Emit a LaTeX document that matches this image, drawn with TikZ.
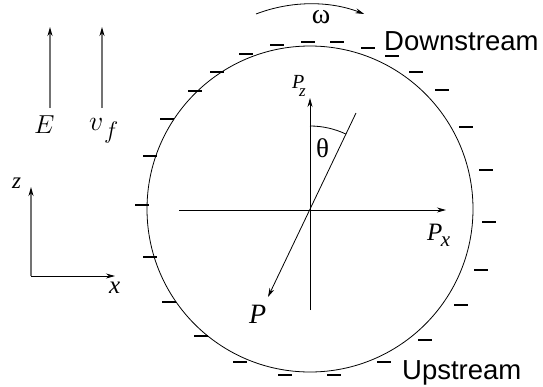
\RequirePackage{fix-cm}
\documentclass[tikz,border=0pt]{standalone}
\usepackage{fontspec}
\setmainfont{Liberation Serif}
\setsansfont{Liberation Sans}
\usetikzlibrary{arrows.meta}
\tikzset{
  chg/.style={line width=1.8pt},
  thin line/.style={line width=0.8pt},
  tip/.style={-{Stealth[length=9pt,width=5pt]}},
  grayarrow/.style={line width=1.3pt, draw=black!55, -{Stealth[length=9pt,width=5pt,color=black]}},
  lbl/.style={inner sep=0pt, anchor=base west},
}
\newcommand{\fs}[1]{\fontsize{#1}{#1}\selectfont}
\begin{document}
\begin{tikzpicture}[x=1pt,y=-1pt]
\useasboundingbox (0,0) rectangle (543,386);
% main circle
\coordinate (O) at (310,210);
\draw[thin line] (310,209) circle[radius=163];
% charges
\foreach \x/\y in {277/45,246/54,217/72,195/91,167/119,150/156,142/205,150/257,169/302,201/336,240/362,285/375,334/375,384/362,425/340,461/305,481/270,489/222,486/170,466/127,442/90,416/72,392/56,368/48,337/42,308/42}
  \draw[chg] (\x-7,\y) -- (\x+7,\y);
% axes
\coordinate (xl) at (179,210);
\coordinate (xr) at (446,210);
\coordinate (zb) at (310,310);
\coordinate (zt) at (310,98);
\draw[thin line, tip] (xl) -- (xr);
\draw[thin line, tip] (zb) -- (zt);
% P vector
\coordinate (pt) at (356,113);
\coordinate (pb) at (268,297);
\draw[thin line, tip] (pt) -- (pb);
% theta arc
\draw[thin line] (310,126) arc[start angle=-90, end angle=-64.6, radius=84];
\node[inner sep=0] (theta) at (322.5,148) {\fs{27}θ};
% omega arc
\draw[thin line, tip] (256,14) arc[start angle=-111, end angle=-69, radius=151];
\node[inner sep=0] (omega) at (321,17) {\fs{28}ω};
% labels
\node[lbl] (pz) at (292,88) {\fs{20}\itshape P\kern-0.26em\raisebox{-0.42em}{\fs{17}z}};
\node[lbl] (px) at (427,240) {\fs{25}\itshape P\kern-0.06em\raisebox{-0.25em}{\fs{21}x}};
\node[lbl] (p) at (249,323) {\fs{28}\itshape P};
\node[lbl] (down) at (384,50) {\fs{27.5}\sffamily Downstream};
\node[lbl] (up) at (402,379) {\fs{27.5}\sffamily Upstream};
% E and v_f
\coordinate (eb) at (50,108);
\coordinate (et) at (50,27);
\coordinate (vb) at (102,108);
\coordinate (vt) at (102,27);
\draw[grayarrow] (eb) -- (et);
\draw[grayarrow] (vb) -- (vt);
\node[lbl] (E) at (34,133) {\fs{26}$E$};
\node[lbl] (vf) at (89,130) {\fs{28}$v$\kern0.02em\raisebox{-0.3em}{\fs{24}$f$}};
% coordinate frame
\coordinate (c0) at (31,276);
\coordinate (cz) at (31,187);
\coordinate (cx) at (115,276);
\draw[grayarrow] (c0) -- (cz);
\draw[thin line, tip] (c0) -- (cx);
\node[lbl] (zl) at (12,188) {\fs{23}\itshape z};
\node[lbl] (xlab) at (109,293) {\fs{25}\itshape x};
\end{tikzpicture}
\end{document}
